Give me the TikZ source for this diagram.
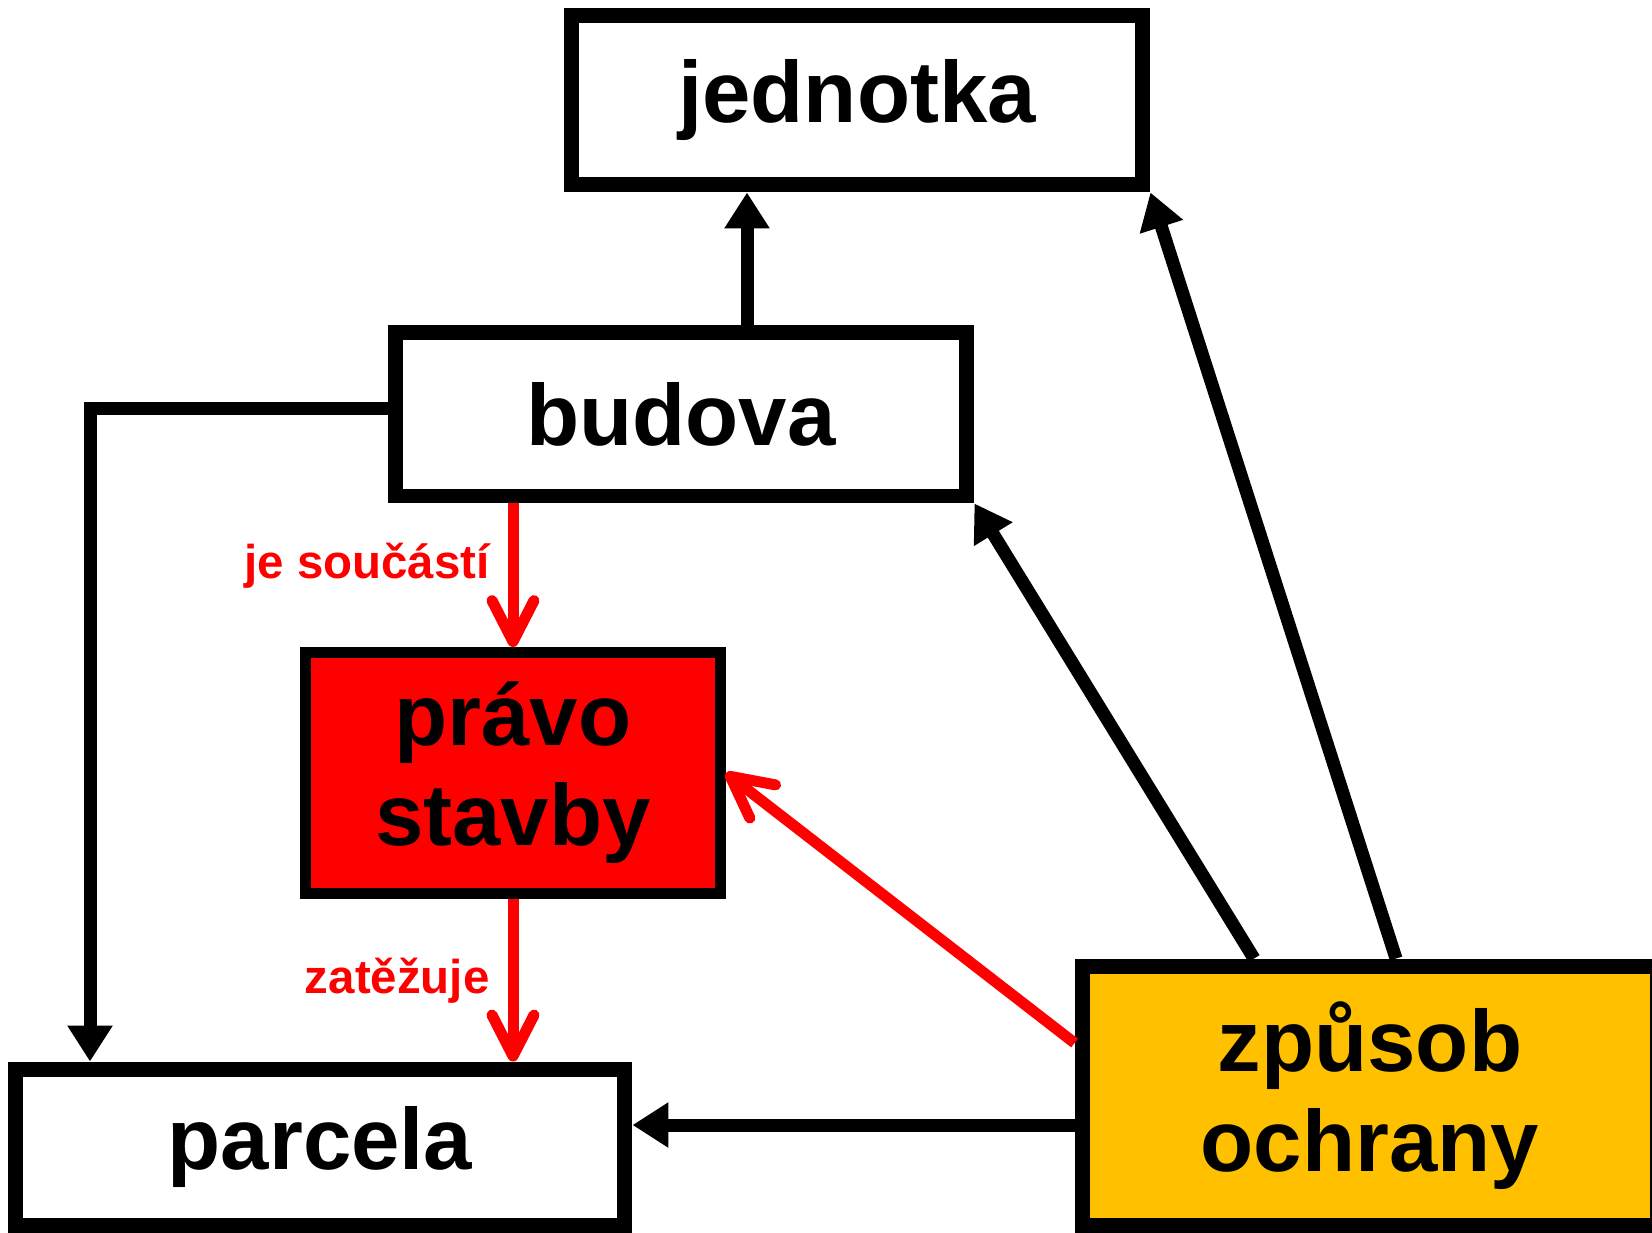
\documentclass[tikz,border=0pt]{standalone}
\usepackage{fontspec}
\setmainfont{Liberation Sans}
\usetikzlibrary{arrows.meta}
\definecolor{gold}{HTML}{FFC000}

\begin{document}
\begin{tikzpicture}[x=0.02cm, y=-0.02cm, main/.style = {draw, rectangle, line width=0.3cm, inner sep=0pt, align=center, font=\fontsize{49.5}{57}\selectfont\bfseries}, link/.style = {line width=0.26cm, -{Triangle[length=0.72cm,width=0.86cm]}}, redlink/.style = {red, line width=0.22cm, -{Straight Barb[length=0.82cm,width=0.84cm,round]}}, lbl/.style = {red, inner sep=0pt, font=\fontsize{27}{32}\selectfont\bfseries}]
\useasboundingbox (0,0) rectangle (1652,1232);
\node[main, minimum width=11.44cm, minimum height=3.4cm] (1) at (857,100) {jednotka};
\node[main, minimum width=11.44cm, minimum height=3.28cm] (2) at (681,414) {budova};
\node[main, minimum width=8.3cm, minimum height=4.82cm, line width=0.22cm, fill=red] (3) at (513,773) {právo\\stavby};
\node[main, minimum width=12.2cm, minimum height=3.12cm] (4) at (320,1147) {parcela};
\node[main, minimum width=11.52cm, minimum height=5.18cm, fill=gold] (5) at (1370,1095.5) {způsob\\ochrany};

\draw[link] (2.north -| 747,0) -- (1.south -| 747,0);
\draw[link] ([yshift=0.12cm]2.west) -| (90,0 |- 4.north);
\draw[link] (5.north -| 1396,0) -- (1.south east);
\draw[link] (5.north -| 1254,0) -- (2.south east);
\draw[link] (5.west |- 0,1125) -- (4.east |- 0,1125);

\draw[redlink] (2.south -| 3.north) -- (3.north) node[lbl, pos=0.43, left=0.36cm] {je součástí};
\draw[redlink] (3.south) -- (3.south |- 4.north) node[lbl, midway, left=0.36cm] {zatěžuje};
\draw[redlink] (5.west |- 0,1043) -- (3.east);

\end{tikzpicture}
\end{document}
